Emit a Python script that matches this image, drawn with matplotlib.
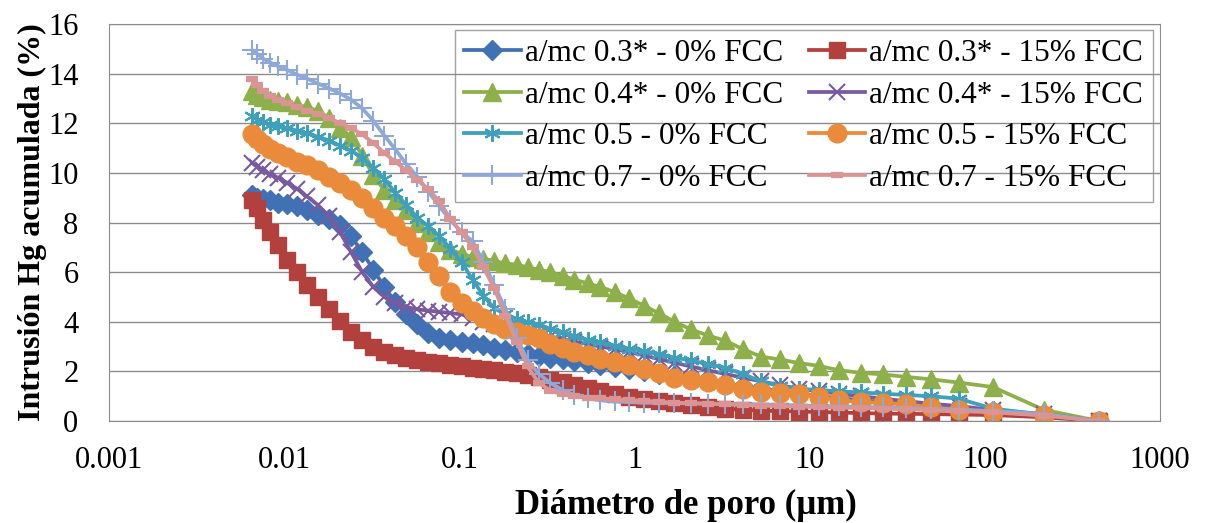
import matplotlib
matplotlib.use('Agg')
import matplotlib.pyplot as plt

plt.rcParams['font.family'] = ['Liberation Serif', 'DejaVu Serif']

# pore diameter (um), shared by all series
diam = [0.00656, 0.00701, 0.00759, 0.00832, 0.00924, 0.0104, 0.0119, 0.0135,
        0.0156, 0.0181, 0.0209, 0.0241, 0.0279, 0.0323, 0.0373, 0.0431,
        0.0498, 0.0575, 0.0665, 0.0769, 0.0888, 0.103, 0.119, 0.137,
        0.158, 0.183, 0.212, 0.245, 0.283, 0.331, 0.388, 0.454,
        0.539, 0.639, 0.769, 0.924, 1.13, 1.37, 1.69, 2.09,
        2.61, 3.27, 4.14, 5.25, 6.74, 8.65, 11.3, 14.6,
        19.6, 26.1, 35.4, 49.1, 71.0, 111, 217, 448]

# cumulative Hg intrusion (%)
w03_0 = [9.1, 9.0, 8.95, 8.9, 8.8, 8.75, 8.65, 8.5, 8.3, 8.15, 7.9, 7.45, 6.8, 6.1,
         5.4, 4.8, 4.3, 3.9, 3.55, 3.35, 3.25, 3.2, 3.15, 3.05, 2.95, 2.88, 2.8, 2.72,
         2.64, 2.56, 2.48, 2.4, 2.32, 2.24, 2.16, 2.08, 2.0, 1.9, 1.8, 1.7, 1.6, 1.5,
         1.4, 1.3, 1.2, 1.1, 1.0, 0.92, 0.84, 0.76, 0.68, 0.6, 0.52, 0.42, 0.25, 0.0]
w03_15 = [8.9, 8.6, 8.1, 7.6, 7.1, 6.5, 6.0, 5.5, 5.0, 4.5, 4.05, 3.6, 3.25, 3.0,
          2.8, 2.65, 2.52, 2.44, 2.38, 2.33, 2.26, 2.2, 2.14, 2.09, 2.04, 1.98, 1.92, 1.85,
          1.76, 1.66, 1.56, 1.45, 1.35, 1.2, 1.08, 0.97, 0.88, 0.8, 0.72, 0.64, 0.57, 0.5,
          0.45, 0.42, 0.4, 0.38, 0.36, 0.34, 0.32, 0.3, 0.29, 0.28, 0.26, 0.24, 0.15, 0.0]
w04_0 = [13.3, 13.15, 13.05, 12.95, 12.9, 12.85, 12.75, 12.65, 12.5, 12.2, 11.8, 11.45, 10.7, 9.9,
         9.3, 8.9, 8.5, 8.0, 7.6, 7.2, 6.9, 6.75, 6.6, 6.55, 6.45, 6.35, 6.3, 6.2,
         6.1, 6.0, 5.85, 5.7, 5.55, 5.4, 5.2, 4.95, 4.65, 4.35, 4.0, 3.7, 3.45, 3.25,
         2.9, 2.6, 2.48, 2.34, 2.22, 2.05, 1.94, 1.88, 1.78, 1.68, 1.55, 1.37, 0.45, 0.0]
w04_15 = [10.4, 10.25, 10.1, 9.95, 9.8, 9.6, 9.35, 9.05, 8.7, 8.25, 7.6, 6.8, 6.0, 5.4,
          5.0, 4.75, 4.6, 4.5, 4.45, 4.4, 4.35, 4.3, 4.15, 4.0, 3.9, 3.8, 3.7, 3.6,
          3.5, 3.4, 3.3, 3.2, 3.1, 3.0, 2.9, 2.78, 2.65, 2.5, 2.35, 2.2, 2.05, 1.9,
          1.75, 1.6, 1.45, 1.3, 1.2, 1.1, 1.0, 0.9, 0.8, 0.7, 0.6, 0.45, 0.28, 0.0]
w05_0 = [12.3, 12.15, 12.05, 11.95, 11.9, 11.8, 11.7, 11.6, 11.45, 11.3, 11.1, 10.9, 10.6, 10.2,
         9.75, 9.2, 8.7, 8.2, 7.85, 7.45, 6.95, 6.4, 5.7, 5.05, 4.55, 4.3, 4.12, 3.98,
         3.86, 3.72, 3.57, 3.42, 3.27, 3.17, 3.04, 2.92, 2.82, 2.7, 2.56, 2.44, 2.3, 2.15,
         1.9, 1.6, 1.4, 1.3, 1.25, 1.2, 1.15, 1.1, 1.05, 1.0, 0.9, 0.5, 0.25, 0.0]
w05_15 = [11.55, 11.35, 11.15, 10.95, 10.8, 10.65, 10.45, 10.3, 10.1, 9.85, 9.6, 9.3, 9.0, 8.6,
          8.2, 7.85, 7.45, 7.0, 6.4, 5.85, 5.2, 4.75, 4.42, 4.15, 3.9, 3.72, 3.58, 3.45,
          3.33, 3.12, 2.95, 2.8, 2.66, 2.5, 2.38, 2.25, 2.1, 1.92, 1.75, 1.64, 1.56, 1.47,
          1.28, 1.18, 1.13, 1.08, 0.96, 0.84, 0.77, 0.72, 0.67, 0.56, 0.45, 0.36, 0.24, 0.0]
w07_0 = [14.95, 14.8, 14.6, 14.45, 14.3, 14.15, 13.95, 13.8, 13.6, 13.4, 13.2, 12.95, 12.6, 12.1,
         11.5, 10.95, 10.35, 9.85, 9.25, 8.65, 8.1, 7.6, 7.25, 6.4, 5.5, 4.5, 3.35, 2.45,
         1.9, 1.53, 1.25, 1.05, 0.92, 0.83, 0.79, 0.76, 0.74, 0.73, 0.72, 0.71, 0.7, 0.69,
         0.68, 0.67, 0.65, 0.63, 0.61, 0.59, 0.57, 0.55, 0.52, 0.49, 0.46, 0.4, 0.28, 0.0]
w07_15 = [13.8, 13.55, 13.3, 13.1, 12.95, 12.8, 12.65, 12.5, 12.38, 12.2, 12.0, 11.8, 11.55, 11.2,
          10.8, 10.45, 10.1, 9.7, 9.35, 8.85, 8.15, 7.6, 7.0, 6.2, 5.35, 4.25, 3.2, 2.2,
          1.55, 1.22, 1.07, 0.99, 0.94, 0.91, 0.88, 0.85, 0.82, 0.78, 0.74, 0.72, 0.7, 0.67,
          0.65, 0.62, 0.6, 0.58, 0.56, 0.54, 0.52, 0.5, 0.47, 0.44, 0.4, 0.35, 0.22, 0.0]

labels = ['a/mc 0.3* - 0% FCC', 'a/mc 0.3* - 15% FCC', 'a/mc 0.4* - 0% FCC', 'a/mc 0.4* - 15% FCC',
          'a/mc 0.5 - 0% FCC', 'a/mc 0.5 - 15% FCC', 'a/mc 0.7 - 0% FCC', 'a/mc 0.7 - 15% FCC']
series = [w03_0, w03_15, w04_0, w04_15, w05_0, w05_15, w07_0, w07_15]
colors = ['#4071B4', '#B2403D', '#8DB04A', '#7A5A9E', '#3FA0BC', '#E98B3A', '#8EA9D8', '#D99493']
markers = ['D', 's', '^', 'x', (6, 2, 0), 'o', '+', '_']
msizes = [10, 12, 13, 12, 12, 13.5, 14, 8]
mews = [1, 1, 1, 1.5, 1.5, 1, 1.5, 4.5]

fig = plt.figure(figsize=(12.05, 5.23), dpi=100)
ax = fig.add_axes([0.0905, 0.195, 0.8722, 0.759])

lines = []
for y, lab, c, m, ms, mw in zip(series, labels, colors, markers, msizes, mews):
    ln, = ax.plot(diam, y, color=c, lw=2.7, marker=m, ms=ms, mew=mw, mec=c, mfc=c, label=lab)
    lines.append(ln)

ax.set_xscale('log')
ax.set_xlim(0.001, 1000)
ax.set_ylim(0, 16)
ax.set_yticks(range(0, 17, 2))
ax.set_xticks([0.001, 0.01, 0.1, 1, 10, 100, 1000])
ax.set_xticklabels(['0.001', '0.01', '0.1', '1', '10', '100', '1000'])
ax.minorticks_off()
ax.tick_params(axis='both', length=0, labelsize=22)
ax.tick_params(axis='y', pad=22)
ax.tick_params(axis='x', pad=18)
ax.grid(axis='y', color='#8C8C8C', lw=1)
ax.set_axisbelow(True)
for s in ax.spines.values():
    s.set_color('#8C8C8C')

ax.set_xlabel('Diámetro de poro (µm)', fontsize=25, fontweight='bold', va='center')
ax.xaxis.set_label_coords(0.549, -0.212)
ax.set_ylabel('Intrusión Hg acumulada (%)', fontsize=23, fontweight='bold', labelpad=1)

order = [0, 2, 4, 6, 1, 3, 5, 7]
leg = ax.legend([lines[i] for i in order], [labels[i] for i in order], ncol=2,
                loc='upper right', bbox_to_anchor=(0.993, 0.985), fontsize=22.5,
                handlelength=1.8, handletextpad=0.15, columnspacing=0.8,
                labelspacing=0.4, borderpad=0.3, borderaxespad=0, fancybox=False)
leg.get_frame().set_facecolor('none')
leg.get_frame().set_edgecolor('#8C8C8C')
leg.get_frame().set_linewidth(1)

plt.savefig('out.png', dpi=100)
